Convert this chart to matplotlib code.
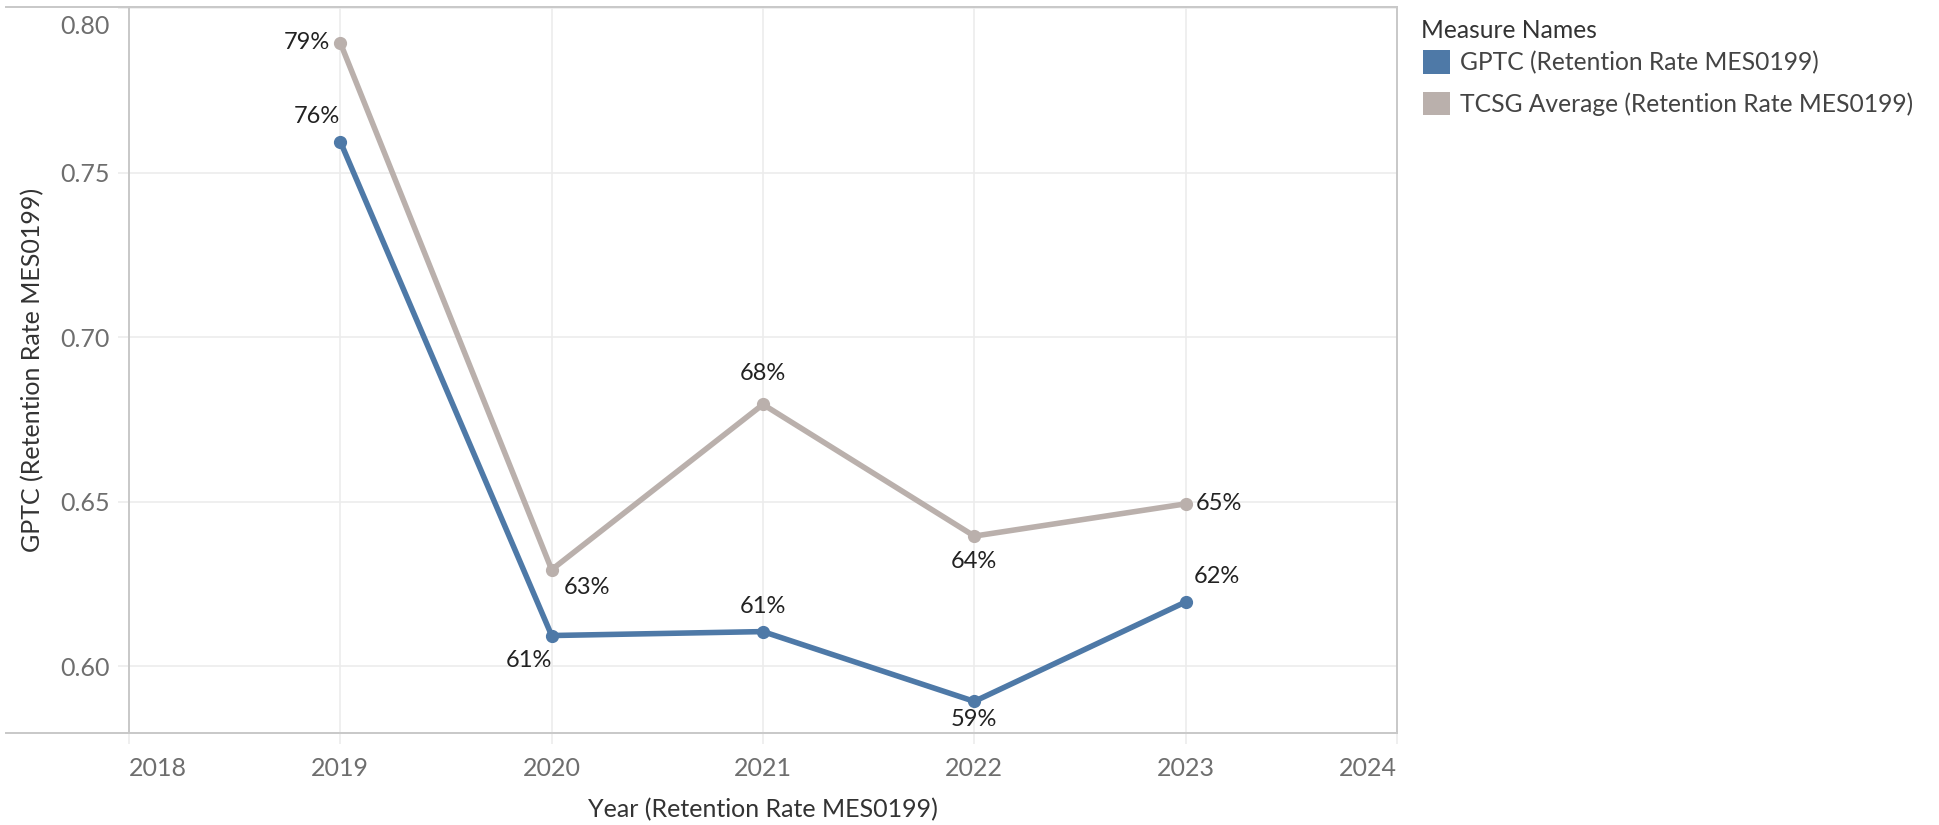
import matplotlib
matplotlib.use('Agg')
import matplotlib.pyplot as plt
from matplotlib.patches import Patch
from matplotlib.lines import Line2D
from matplotlib.transforms import ScaledTranslation

plt.rcParams['font.family'] = ['Lato', 'DejaVu Sans']

years = [2019, 2020, 2021, 2022, 2023]
gptc = [0.7594, 0.6094, 0.6106, 0.5894, 0.6196]
tcsg = [0.7894, 0.6294, 0.6796, 0.6396, 0.6494]
gptc_labels = ['76%', '61%', '61%', '59%', '62%']
tcsg_labels = ['79%', '63%', '68%', '64%', '65%']
series_names = ['GPTC (Retention Rate MES0199)', 'TCSG Average (Retention Rate MES0199)']
x_ticks = [2018, 2019, 2020, 2021, 2022, 2023, 2024]
y_ticks = [0.60, 0.65, 0.70, 0.75, 0.80]

blue = '#4e79a7'
grey = '#bab0ac'
axis_col = '#c8c8c8'
grid_col = '#ececec'
tick_col = '#6e6e6e'
text_col = '#333333'

W, H = 1940, 825
fig = plt.figure(figsize=(W / 100, H / 100), dpi=100)
ax = fig.add_axes([129 / W, 1 - 733 / H, (1397 - 129) / W, (733 - 7) / H])

ax.plot(years, tcsg, color=grey, lw=4, marker='o', ms=8.5, solid_capstyle='round', zorder=3)
ax.plot(years, gptc, color=blue, lw=4, marker='o', ms=8.5, solid_capstyle='round', zorder=4)

ax.set_xlim(2018, 2024)
ax.set_ylim(0.5798, 0.8003)
ax.set_xticks(x_ticks)
ax.set_yticks(y_ticks)
ax.set_xticklabels([str(t) for t in x_ticks])
ax.set_yticklabels(['%.2f' % t for t in y_ticks])
ax.grid(True, color=grid_col, lw=1.2, zorder=0)
ax.tick_params(axis='both', colors=grid_col, length=8, width=1.2, labelsize=18, labelcolor=tick_col)
ax.tick_params(axis='x', pad=9)
ax.tick_params(axis='y', pad=6)

xl = ax.get_xticklabels()
xl[0].set_ha('left')
xl[-1].set_ha('right')
yl = ax.get_yticklabels()
yl[-1].set_va('top')
yl[-1].set_transform(yl[-1].get_transform() + ScaledTranslation(0, -0.07, fig.dpi_scale_trans))

for s in ['left', 'right', 'bottom', 'top']:
    ax.spines[s].set_color(axis_col)
    ax.spines[s].set_linewidth(1.4)

# header/footer lines run past the axis on the left
fig.add_artist(Line2D([6 / W, 129 / W], [1 - 733 / H, 1 - 733 / H], color=axis_col, lw=1.4))
fig.add_artist(Line2D([6 / W, 129 / W], [1 - 7 / H, 1 - 7 / H], color=axis_col, lw=1.4))

ax.set_xlabel('Year (Retention Rate MES0199)', fontsize=18, color=text_col, labelpad=13)
ax.set_ylabel('GPTC (Retention Rate MES0199)', fontsize=18, color=text_col, labelpad=11)

# data labels: (dx, dy) in pixels, horizontal alignment
gptc_pos = [(0, 25, 'right'), (0, -25, 'right'), (0, 25, 'center'), (0, -18, 'center'), (8, 25, 'left')]
tcsg_pos = [(-10, 0, 'right'), (12, -18, 'left'), (0, 31, 'center'), (0, -25, 'center'), (10, 0, 'left')]
for vals, labs, pos in [(gptc, gptc_labels, gptc_pos), (tcsg, tcsg_labels, tcsg_pos)]:
    for x, y, t, (dx, dy, ha) in zip(years, vals, labs, pos):
        ax.annotate(t, (x, y), xytext=(dx, dy), textcoords='offset pixels',
                    ha=ha, va='center', fontsize=17, color='#222222', zorder=5)

# legend
fig.text(1421 / W, 1 - 30 / H, 'Measure Names', fontsize=17.7, color=text_col, va='center', ha='left')
handles = [Patch(facecolor=blue, edgecolor='none'), Patch(facecolor=grey, edgecolor='none')]
leg = fig.legend(handles, series_names, loc='upper left', bbox_to_anchor=(1423 / W, 1 - 50 / H),
                 frameon=False, fontsize=17.7,
                 handlelength=1.1, handleheight=1.1, handletextpad=0.4, labelspacing=0.72,
                 borderaxespad=0, borderpad=0)
for t in leg.get_texts():
    t.set_color('#444444')

fig.savefig('out.png', dpi=100)
